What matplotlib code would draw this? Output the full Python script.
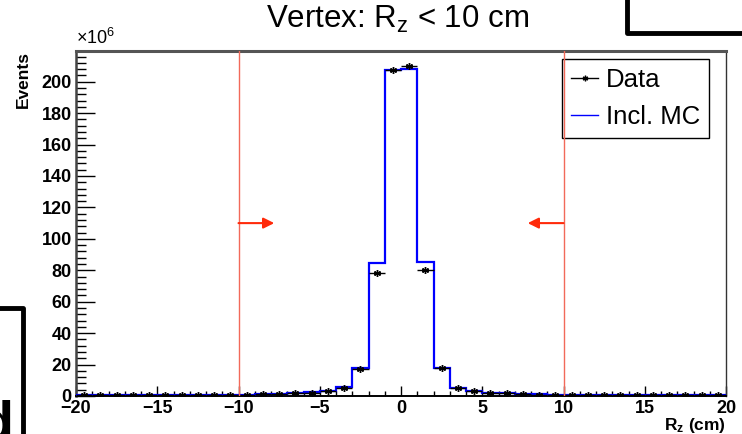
import numpy as np
import matplotlib
matplotlib.use("Agg")
import matplotlib.pyplot as plt
from matplotlib.lines import Line2D
from matplotlib.ticker import MultipleLocator

plt.rcParams['font.family'] = ['Liberation Sans', 'DejaVu Sans']
plt.rcParams['mathtext.fontset'] = 'custom'
plt.rcParams['mathtext.rm'] = 'Liberation Sans'
plt.rcParams['mathtext.it'] = 'Liberation Sans:italic'
plt.rcParams['mathtext.bf'] = 'Liberation Sans:bold'

# Binning of the vertex z position (cm), 1 cm bins
edges = np.arange(-20, 21, 1)
centers = 0.5 * (edges[:-1] + edges[1:])

# Inclusive MC, events per bin (x 10^6)
mc_counts = [0.4, 0.4, 0.4, 0.4, 0.4, 0.45, 0.45, 0.5, 0.55, 0.6,
             0.9, 1.1, 1.3, 1.7, 2.3, 3.4, 5.5, 17.5, 84.5, 207.6,
             208.3, 85.0, 17.5, 5.3, 3.4, 2.2, 1.7, 1.4, 1.0, 0.8,
             0.6, 0.5, 0.5, 0.45, 0.45, 0.4, 0.4, 0.4, 0.4, 0.4]

# Data, events per bin (x 10^6)
data_counts = [0.35, 0.35, 0.35, 0.35, 0.4, 0.4, 0.4, 0.45, 0.5, 0.55,
               0.8, 1.0, 1.2, 1.6, 2.2, 3.3, 5.3, 17.3, 78.3, 207.2,
               209.7, 80.0, 17.5, 5.0, 3.3, 2.1, 1.6, 1.3, 0.9, 0.7,
               0.55, 0.45, 0.45, 0.4, 0.4, 0.35, 0.35, 0.35, 0.35, 0.35]

# Selection window |Rz| < 10 cm
cut_lo, cut_hi = -10, 10
arrow_y = 110
arrow_len = 2.2

fig = plt.figure(figsize=(7.42, 4.34), dpi=100)
ax = fig.add_axes([76/742, 38/434, 650/742, 345/434])

ax.stairs(mc_counts, edges, color='#0000ff', lw=1.6, baseline=0, zorder=3)
ax.errorbar(centers, data_counts, xerr=0.5, fmt='none', ecolor='black',
            elinewidth=1.0, zorder=4)
ax.plot(centers, data_counts, ls='none', marker=(6, 2, 0), ms=5,
        mec='black', mew=1.0, zorder=5)

# Cut lines and arrows
for xc, sgn in [(cut_lo, 1), (cut_hi, -1)]:
    ax.axvline(xc, color='#f26a5a', lw=1.0, zorder=7)
    ax.annotate('', xy=(xc + sgn * arrow_len, arrow_y), xytext=(xc, arrow_y),
                arrowprops=dict(arrowstyle='-|>', color='#ff2a0a', lw=1.5,
                                mutation_scale=16, shrinkA=0, shrinkB=0),
                zorder=7)

ax.set_xlim(-20, 20)
ax.set_ylim(0, 219.5)

# Axis ticks
ax.xaxis.set_major_locator(MultipleLocator(5))
ax.xaxis.set_minor_locator(MultipleLocator(1))
ax.yaxis.set_major_locator(MultipleLocator(20))
ax.yaxis.set_minor_locator(MultipleLocator(4))
ax.tick_params(axis='x', which='major', direction='in', length=7.5, width=1.0, pad=3)
ax.tick_params(axis='x', which='minor', direction='in', length=3.8, width=1.0)
ax.tick_params(axis='y', which='major', direction='in', length=14, width=1.0, pad=3)
ax.tick_params(axis='y', which='minor', direction='in', length=7, width=1.0)
ax.tick_params(labelsize=13)
for lab in ax.get_xticklabels() + ax.get_yticklabels():
    lab.set_fontweight('bold')

ax.spines['left'].set_color('#444444')
ax.spines['left'].set_linewidth(1.8)
ax.spines['top'].set_color('#555555')
ax.spines['top'].set_linewidth(2.2)
ax.spines['right'].set_color('#333333')
ax.spines['right'].set_linewidth(1.0)
ax.spines['bottom'].set_linewidth(1.4)

ax.set_xlabel(r'R$_{\mathbf{z}}$ (cm)', fontsize=12.5, fontweight='bold',
              loc='right', labelpad=-1)
ax.set_ylabel('Events', fontsize=12.5, fontweight='bold', loc='top', labelpad=8)
ax.text(0.0, 1.01, r'$\times$10$^{6}$', transform=ax.transAxes,
        fontsize=13, ha='left', va='bottom')
fig.text(398/742, 1 - 19/434, r'Vertex: R$_{\mathrm{z}}$ < 10 cm', fontsize=22.5,
         ha='center', va='center')

# Legend
handles = [Line2D([], [], color='black', lw=1.0, marker=(6, 2, 0), ms=4, mew=1.0),
           Line2D([], [], color='#0000ff', lw=1.0)]
leg = ax.legend(handles, ['Data', 'Incl. MC'], loc='upper right',
                bbox_to_anchor=(633/650, 337/345), fontsize=18.5,
                fancybox=False, framealpha=1, edgecolor='black',
                handlelength=1.05, handletextpad=0.3, labelspacing=0.5,
                borderpad=0.35, borderaxespad=0)
leg.get_frame().set_linewidth(1.0)
leg.set_zorder(6)

# Neighbouring slide frames
fig.add_artist(Line2D([627/742, 627/742, 1.0], [1.0, 1 - 33/434, 1 - 33/434],
                      transform=fig.transFigure, color='black', lw=3.5))
fig.add_artist(Line2D([0.0, 23/742, 23/742], [1 - 308/434, 1 - 308/434, 0.0],
                      transform=fig.transFigure, color='black', lw=3.5))
fig.text(14/742, -6/434, 'd', fontsize=40, fontweight='bold', ha='right',
         va='baseline')

fig.savefig('out.png', dpi=100)
